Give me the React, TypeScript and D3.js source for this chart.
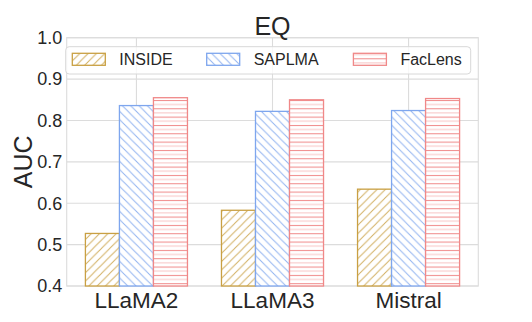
import React from "react";
import * as d3 from "d3";

const categories = ["LLaMA2", "LLaMA3", "Mistral"];
const seriesNames = ["INSIDE", "SAPLMA", "FacLens"];
const insideValues = [0.527, 0.583, 0.634];
const saplmaValues = [0.836, 0.822, 0.824];
const faclensValues = [0.855, 0.850, 0.853];
const yTicks = [0.4, 0.5, 0.6, 0.7, 0.8, 0.9, 1.0];
const title = "EQ";
const yLabel = "AUC";

const W = 532;
const H = 322;
const left = 66.7;
const right = 478.3;
const top = 37.7;
const bottom = 286;
const FONT = "'Liberation Sans', Arial, sans-serif";
const TEXT = "#262626";
const GRID = "#dcdcdc";

const colors = ["#c9a043", "#7ea6ee", "#f08888"];
const patternIds = ["hatch-inside", "hatch-saplma", "hatch-faclens"];

export default function App() {
  const series = [insideValues, saplmaValues, faclensValues];
  const barW = 0.25;
  const x = d3.scaleLinear().domain([-0.5125, 2.5125]).range([left, right]);
  const y = d3.scaleLinear().domain([0.4, 1.0]).range([bottom, top]);
  const bw = x(barW) - x(0);
  const P = 8.33;

  const legendX = [72.3, 206.7, 353.4];

  return (
    <svg width={W} height={H} style={{ position: "absolute", left: 0, top: 0, background: "#fff" }} fontFamily={FONT}>
      <defs>
        <pattern id={patternIds[0]} patternUnits="userSpaceOnUse" width={P} height={P}>
          <rect width={P} height={P} fill="#fff" />
          <path d={`M0,${P} L${P},0 M${-P / 2},${P / 2} L${P / 2},${-P / 2} M${P / 2},${P * 1.5} L${P * 1.5},${P / 2}`} stroke={colors[0]} strokeWidth={1} opacity={0.85} />
        </pattern>
        <pattern id={patternIds[1]} patternUnits="userSpaceOnUse" width={P} height={P}>
          <rect width={P} height={P} fill="#fff" />
          <path d={`M0,0 L${P},${P} M${-P / 2},${P / 2} L${P / 2},${P * 1.5} M${P / 2},${-P / 2} L${P * 1.5},${P / 2}`} stroke={colors[1]} strokeWidth={1} opacity={0.85} />
        </pattern>
        <pattern id={patternIds[2]} patternUnits="userSpaceOnUse" width={P} height={P}>
          <rect width={P} height={P} fill="#fff" />
          <line x1={0} x2={P} y1={0.5} y2={0.5} stroke={colors[2]} strokeWidth={1} />
          <line x1={0} x2={P} y1={P / 2 + 0.4} y2={P / 2 + 0.4} stroke={colors[2]} strokeWidth={1} opacity={0.5} />
        </pattern>
      </defs>

      {/* grid */}
      {yTicks.map((t) => (
        <line key={"gy" + t} x1={left} x2={right} y1={y(t)} y2={y(t)} stroke={GRID} strokeWidth={1.1} />
      ))}
      {categories.map((c, i) => (
        <line key={"gx" + c} x1={x(i)} x2={x(i)} y1={top} y2={bottom} stroke={GRID} strokeWidth={1.1} />
      ))}
      <rect x={left} y={top} width={right - left} height={bottom - top} fill="none" stroke={GRID} strokeWidth={1.1} />

      {/* bars */}
      {series.map((vals, s) =>
        vals.map((v, i) => {
          const cx = x(i + (s - 1) * barW);
          return (
            <rect
              key={`b${s}-${i}`}
              x={cx - bw / 2}
              y={y(v)}
              width={bw}
              height={y(0.4) - y(v)}
              fill={`url(#${patternIds[s]})`}
              stroke={colors[s]}
              strokeWidth={1.3}
            />
          );
        })
      )}

      {/* y ticks */}
      {yTicks.map((t) => (
        <text key={"ty" + t} x={left - 4.5} y={y(t)} dy="0.35em" textAnchor="end" fontSize={18} fill={TEXT}>
          {t.toFixed(1)}
        </text>
      ))}
      {/* x ticks */}
      {categories.map((c, i) => (
        <text key={"tx" + c} x={x(i)} y={307.7} textAnchor="middle" fontSize={22.5} fill={TEXT}>
          {c}
        </text>
      ))}

      <text x={(left + right) / 2} y={35} textAnchor="middle" fontSize={25} fill={TEXT}>
        {title}
      </text>
      <text transform={`translate(31.7, ${(top + bottom) / 2}) rotate(-90)`} textAnchor="middle" fontSize={25} fill={TEXT}>
        {yLabel}
      </text>

      {/* legend */}
      <rect x={65.7} y={46.7} width={405} height={27.3} rx={3.5} fill="#fff" fillOpacity={0.8} stroke="#d8d8d8" strokeWidth={1} />
      {seriesNames.map((n, s) => (
        <g key={"lg" + n}>
          <rect x={legendX[s]} y={53.3} width={33} height={12} fill={`url(#${patternIds[s]})`} stroke={colors[s]} strokeWidth={1.3} />
          <text x={legendX[s] + 47} y={65.3} fontSize={16} fill={TEXT}>
            {n}
          </text>
        </g>
      ))}
    </svg>
  );
}
